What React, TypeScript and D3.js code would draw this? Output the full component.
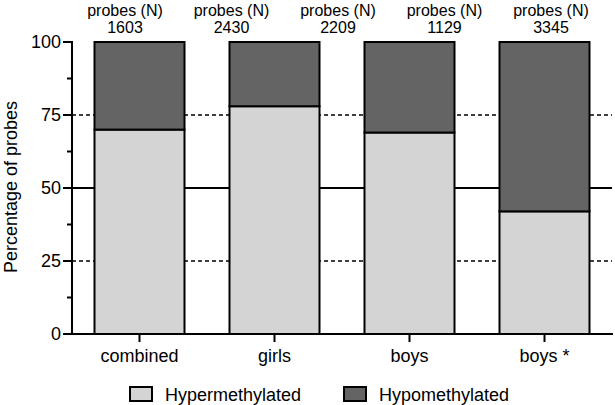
import * as d3 from "d3";
import { useEffect, useRef } from "react";

// ─── Data ───────────────────────────────────────────────────────────────
const CATEGORIES = ["combined", "girls", "boys", "boys *"];
const HYPER = [70, 78, 69, 42]; // % hypermethylated
const HYPO = [30, 22, 31, 58]; // % hypomethylated
const PROBE_COUNTS = [1603, 2430, 2209, 1129, 3345];
const Y_TICKS = [0, 25, 50, 75, 100];
const Y_MINOR = [12.5, 37.5, 62.5, 87.5];
const GRID = [
  { v: 25, dashed: true },
  { v: 50, dashed: false },
  { v: 75, dashed: true },
];
const SERIES = [
  { key: "Hypermethylated", values: HYPER, color: "#d4d4d4" },
  { key: "Hypomethylated", values: HYPO, color: "#646464" },
];

const W = 615;
const H = 405;
const FONT = "'Liberation Sans', Arial, sans-serif";

function Chart() {
  const svgRef = useRef<SVGSVGElement>(null);

  useEffect(() => {
    if (!svgRef.current) return;
    const svg = d3.select(svgRef.current);
    svg.selectAll("*").remove();

    const x0 = 72, x1 = 612;
    const y = d3.scaleLinear().domain([0, 100]).range([334, 42]);
    const x = d3.scaleBand<string>()
      .domain(CATEGORIES)
      .range([x0, x1])
      .paddingInner(1 / 3)
      .paddingOuter(1 / 6);

    // Reference lines behind the bars
    GRID.forEach((g) => {
      svg.append("line")
        .attr("x1", x0).attr("x2", x1)
        .attr("y1", y(g.v)).attr("y2", y(g.v))
        .attr("stroke", "#000")
        .attr("stroke-width", g.dashed ? 1.6 : 2)
        .attr("stroke-dasharray", g.dashed ? "4,3" : null);
    });

    // Stacked bars
    const stackData = CATEGORIES.map((c, i) => ({
      cat: c,
      Hypermethylated: HYPER[i],
      Hypomethylated: HYPO[i],
    }));
    const stack = d3.stack<any>().keys(SERIES.map((s) => s.key));
    const layers = stack(stackData);
    layers.forEach((layer, li) => {
      svg.append("g")
        .selectAll("rect")
        .data(layer)
        .enter()
        .append("rect")
        .attr("x", (d) => x(d.data.cat)!)
        .attr("width", x.bandwidth())
        .attr("y", (d) => y(d[1]))
        .attr("height", (d) => y(d[0]) - y(d[1]))
        .attr("fill", SERIES[li].color)
        .attr("stroke", "#000")
        .attr("stroke-width", 2);
    });

    // Y axis
    const yAxis = svg.append("g").attr("font-family", FONT);
    yAxis.append("line")
      .attr("x1", x0).attr("x2", x0)
      .attr("y1", y(100) - 1).attr("y2", y(0))
      .attr("stroke", "#000").attr("stroke-width", 2);
    Y_TICKS.forEach((t) => {
      yAxis.append("line")
        .attr("x1", x0 - 9).attr("x2", x0)
        .attr("y1", y(t)).attr("y2", y(t))
        .attr("stroke", "#000").attr("stroke-width", 2);
      yAxis.append("text")
        .attr("x", x0 - 11)
        .attr("y", y(t))
        .attr("dy", "0.35em")
        .attr("text-anchor", "end")
        .attr("font-size", 18)
        .attr("fill", "#000")
        .text(t);
    });
    Y_MINOR.forEach((t) => {
      yAxis.append("line")
        .attr("x1", x0 - 5).attr("x2", x0)
        .attr("y1", y(t)).attr("y2", y(t))
        .attr("stroke", "#000").attr("stroke-width", 2);
    });
    svg.append("text")
      .attr("transform", `translate(17,${(y(0) + y(100)) / 2 - 1}) rotate(-90)`)
      .attr("text-anchor", "middle")
      .attr("font-family", FONT)
      .attr("font-size", 18)
      .attr("fill", "#000")
      .text("Percentage of probes");

    // X axis
    const xAxis = svg.append("g").attr("font-family", FONT);
    xAxis.append("line")
      .attr("x1", x0 - 1).attr("x2", x1 + 1)
      .attr("y1", y(0)).attr("y2", y(0))
      .attr("stroke", "#000").attr("stroke-width", 2);
    CATEGORIES.forEach((c) => {
      const cx = x(c)! + x.bandwidth() / 2;
      xAxis.append("line")
        .attr("x1", cx).attr("x2", cx)
        .attr("y1", y(0)).attr("y2", y(0) + 8)
        .attr("stroke", "#000").attr("stroke-width", 2);
      xAxis.append("text")
        .attr("x", cx)
        .attr("y", 362)
        .attr("text-anchor", "middle")
        .attr("font-size", 18)
        .attr("fill", "#000")
        .text(c);
    });

    // Probe counts across the top
    const px = d3.scalePoint<number>()
      .domain(d3.range(PROBE_COUNTS.length))
      .range([125, 551]);
    PROBE_COUNTS.forEach((n, i) => {
      const g = svg.append("g")
        .attr("font-family", FONT)
        .attr("font-size", 16)
        .attr("fill", "#000")
        .attr("text-anchor", "middle");
      g.append("text").attr("x", px(i)!).attr("y", 16).text("probes (N)");
      g.append("text").attr("x", px(i)!).attr("y", 33).text(n);
    });

    // Legend
    const legendX = [130, 344];
    SERIES.forEach((s, i) => {
      const g = svg.append("g").attr("transform", `translate(${legendX[i]},387)`);
      g.append("rect")
        .attr("width", 22).attr("height", 14)
        .attr("fill", s.color)
        .attr("stroke", "#000")
        .attr("stroke-width", 2);
      g.append("text")
        .attr("x", 35)
        .attr("y", 14)
        .attr("font-family", FONT)
        .attr("font-size", 18)
        .attr("fill", "#000")
        .text(s.key);
    });
  }, []);

  return (
    <svg
      ref={svgRef}
      width={W}
      height={H}
      style={{ position: "absolute", left: 0, top: 0, background: "#fff" }}
    />
  );
}

export default function App() {
  return <Chart />;
}
